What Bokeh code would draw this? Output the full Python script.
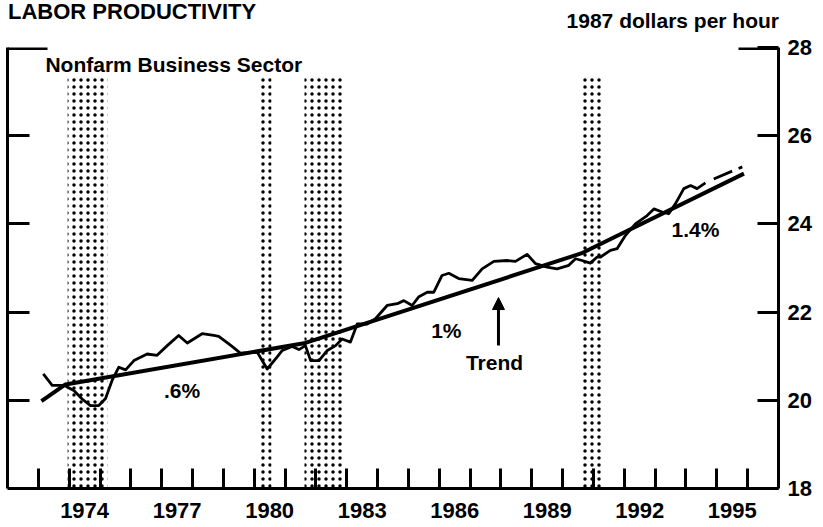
from bokeh.plotting import figure
from bokeh.layouts import column
from bokeh.models import (Range1d, LinearAxis, FixedTicker, Arrow, NormalHead, Div,
                          ColumnDataSource, CustomJSTickFormatter)
from bokeh.embed import file_html
from bokeh.resources import INLINE
from bokeh.core.properties import value

# ---------------- data ----------------
years = [1973.16, 1973.45, 1973.83, 1974.15, 1974.42, 1974.69, 1974.96, 1975.18, 1975.39,
         1975.61, 1975.83, 1976.10, 1976.53, 1976.85, 1977.18, 1977.55, 1977.83, 1978.31,
         1978.69, 1978.85, 1979.23, 1979.55, 1980.10, 1980.42, 1980.74, 1980.91, 1981.23,
         1981.45, 1981.66, 1981.83, 1982.10, 1982.37, 1982.64, 1982.85, 1983.12, 1983.34,
         1983.66, 1983.93, 1984.31, 1984.64, 1984.85, 1985.12, 1985.34, 1985.61, 1985.82,
         1986.09, 1986.31, 1986.63, 1987.07, 1987.39, 1987.77, 1988.20, 1988.47, 1988.85,
         1989.12, 1989.50, 1989.82, 1990.20, 1990.42, 1990.63, 1990.90, 1991.12, 1991.23,
         1991.55, 1991.77, 1992.04, 1992.36, 1992.74, 1992.96, 1993.23, 1993.44, 1993.66,
         1993.93, 1994.15, 1994.36, 1994.63]
productivity = [20.60, 20.34, 20.34, 20.22, 20.03, 19.88, 19.88, 20.04, 20.45,
                20.75, 20.69, 20.90, 21.05, 21.02, 21.24, 21.47, 21.30, 21.51,
                21.47, 21.45, 21.25, 21.07, 21.09, 20.71, 20.98, 21.13, 21.22,
                21.15, 21.24, 20.90, 20.90, 21.13, 21.24, 21.39, 21.32, 21.73,
                21.73, 21.85, 22.15, 22.19, 22.26, 22.15, 22.35, 22.45, 22.45,
                22.83, 22.88, 22.76, 22.72, 22.98, 23.15, 23.17, 23.15, 23.31,
                23.10, 23.02, 22.98, 23.06, 23.21, 23.17, 23.11, 23.25, 23.25,
                23.40, 23.44, 23.74, 24.00, 24.19, 24.34, 24.27, 24.23, 24.46,
                24.80, 24.87, 24.80, 24.93]

proj_x = [1994.90, 1995.85]
proj_y = [25.02, 25.30]

trend_x = [1973.10, 1973.88, 1981.66, 1990.60, 1995.88]
trend_y = [19.98, 20.36, 21.30, 23.33, 25.14]

rec_start = [1973.95, 1980.14, 1981.63, 1990.64]
rec_end = [1975.24, 1980.56, 1982.90, 1991.29]
rec_top = 27.35

tick_years = list(range(1973, 1997))
label_years = [1974, 1977, 1980, 1983, 1986, 1989, 1992, 1995]
y_ticks = [18, 20, 22, 24, 26, 28]
left_ticks = [20, 22, 24, 26]

ann_text = [".6%", "1%", "Trend", "1.4%"]
ann_x = [1977.66, 1986.23, 1987.79, 1994.31]
ann_y = [20.22, 21.58, 20.86, 23.88]

panel_text = "Nonfarm Business Sector"
panel_x = 1973.23
panel_y = 27.62

arrow_x = 1987.92
arrow_y0 = 21.24
arrow_y1 = 22.33

title_text = "LABOR PRODUCTIVITY"
units_text = "1987 dollars per hour"

FONT = "Liberation Sans"
HEADER_H = 34

# ---------------- header ----------------
header = Div(
    text=(f'<div style="position:relative;width:823px;height:{HEADER_H}px;'
          f"font-family:'{FONT}',sans-serif;font-weight:bold;color:black;\">"
          f'<span style="position:absolute;left:8px;top:-4px;font-size:22px;white-space:nowrap">{title_text}</span>'
          f'<span style="position:absolute;right:44px;top:6px;font-size:21px;white-space:nowrap">{units_text}</span>'
          '</div>'),
    width=823, height=HEADER_H, margin=(0, 0, 0, 0))

# ---------------- figure ----------------
p = figure(width=823, height=527 - HEADER_H, x_range=Range1d(1972, 1997), y_range=Range1d(18, 28),
           x_axis_type=None, y_axis_type=None, output_backend="svg", toolbar_location=None,
           min_border_left=7, min_border_right=45, min_border_top=13, min_border_bottom=39,
           margin=(0, 0, 0, 0))
p.outline_line_color = None
p.background_fill_color = "white"

# recession shading (dotted)
p.quad(left=rec_start, right=rec_end, bottom=18, top=rec_top,
       fill_color=None, line_color=None,
       hatch_pattern="dot", hatch_color="black", hatch_scale=7, hatch_weight=1.0)

# trend and data
p.line(trend_x, trend_y, line_width=4, color="black", line_join="round")
p.line(years, productivity, line_width=2.8, color="black", line_join="round")
p.line(proj_x, proj_y, line_width=2.8, color="black", line_dash="20 7 4 12")

# annotations
src = ColumnDataSource(dict(x=ann_x, y=ann_y, t=ann_text))
p.text(x="x", y="y", text="t", source=src, text_align="center", text_baseline="middle",
       text_font=value(FONT), text_font_size="21px", text_font_style="bold", text_color="black")
p.text(x=[panel_x], y=[panel_y], text=[panel_text], text_align="left",
       text_baseline="middle", text_font=value(FONT), text_font_size="21px",
       text_font_style="bold", text_color="black")

p.add_layout(Arrow(end=NormalHead(size=12, fill_color="black", line_color="black"),
                   x_start=arrow_x, y_start=arrow_y0, x_end=arrow_x, y_end=arrow_y1,
                   line_width=3, line_color="black"))

# top corner marks (longer ticks at the top of both vertical axes)
x0, x1 = p.x_range.start, p.x_range.end
y1 = p.y_range.end
corner = 40 / 771 * (x1 - x0)
p.segment(x0=[x0, x1 - corner], x1=[x0 + corner, x1], y0=[y1, y1], y1=[y1, y1],
          line_width=5, color="black")

# axes
xaxis = LinearAxis(ticker=FixedTicker(ticks=[y + 0.5 for y in label_years], minor_ticks=tick_years),
                   formatter=CustomJSTickFormatter(code="return String(Math.floor(tick));"))
xaxis.axis_line_width = 3
xaxis.major_tick_in = 0
xaxis.major_tick_out = 0
xaxis.major_tick_line_color = None
xaxis.minor_tick_in = 20
xaxis.minor_tick_out = 0
xaxis.minor_tick_line_width = 3
xaxis.major_label_standoff = 14
xaxis.major_label_text_font = FONT
xaxis.major_label_text_font_size = "22px"
xaxis.major_label_text_font_style = "bold"
xaxis.major_label_text_color = "black"
p.add_layout(xaxis, "below")

raxis = LinearAxis(ticker=FixedTicker(ticks=y_ticks))
raxis.axis_line_width = 3
raxis.major_tick_in = 21
raxis.major_tick_out = 0
raxis.major_tick_line_width = 3
raxis.minor_tick_line_color = None
raxis.major_label_standoff = 9
raxis.major_label_text_font = FONT
raxis.major_label_text_font_size = "22px"
raxis.major_label_text_font_style = "bold"
raxis.major_label_text_color = "black"
p.add_layout(raxis, "right")

laxis = LinearAxis(ticker=FixedTicker(ticks=left_ticks),
                   formatter=CustomJSTickFormatter(code="return '';"))
laxis.axis_line_width = 3
laxis.major_tick_in = 22
laxis.major_tick_out = 0
laxis.major_tick_line_width = 3
laxis.minor_tick_line_color = None
laxis.major_label_standoff = 0
laxis.major_label_text_color = None
p.add_layout(laxis, "left")

layout = column(header, p, spacing=0, margin=(0, 0, 0, 0))
open("out.html", "w").write(file_html(layout, INLINE))
